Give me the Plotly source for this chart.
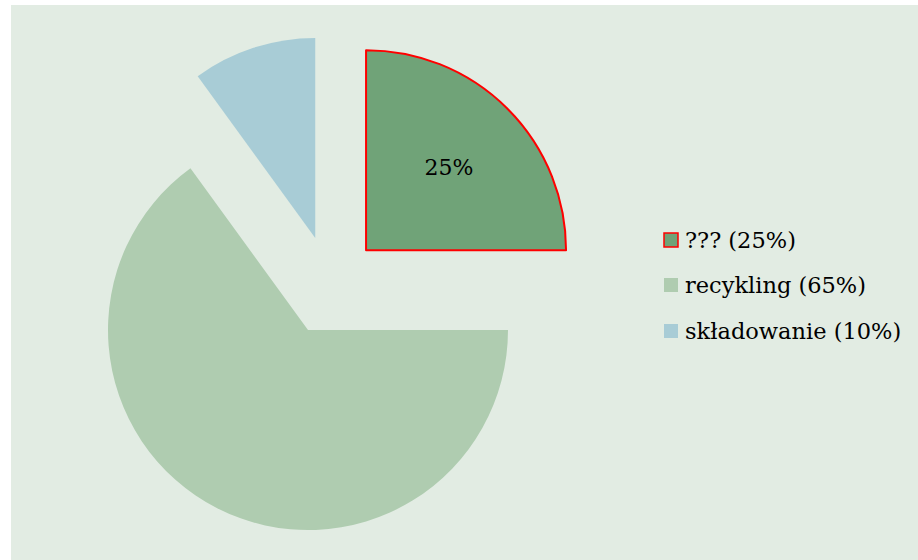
import plotly.graph_objects as go

labels = ["???", "recykling", "składowanie"]
values = [25, 65, 10]
slice_text = ["25%", "", ""]
colors = ["#70A378", "#AFCCB0", "#A8CCD6"]
line_colors = ["#FF0000", "rgba(0,0,0,0)", "rgba(0,0,0,0)"]
line_widths = [2, 0, 0]
pulls = [0.25, 0.25, 0.25]

W, H = 918, 560
BG = "#E2ECE3"
FONT = "Georgia, 'DejaVu Serif', serif"

fig = go.Figure()
fig.add_trace(go.Pie(
    labels=labels,
    values=values,
    text=slice_text,
    textinfo="text",
    textposition="inside",
    insidetextorientation="horizontal",
    textfont=dict(family=FONT, size=22, color="black"),
    sort=False,
    direction="clockwise",
    rotation=0,
    pull=pulls,
    marker=dict(colors=colors, line=dict(color=line_colors, width=line_widths)),
    domain=dict(x=[70.7 / W, 590.7 / W], y=[(H - 535.5) / H, (H - 35.5) / H]),
    hoverinfo="skip",
    showlegend=False,
))

shapes = [dict(type="rect", xref="paper", yref="paper", x0=11 / W, x1=1,
               y0=0, y1=(H - 5) / H, fillcolor=BG, line=dict(width=0), layer="below")]
annotations = []
legend_y = [240, 285, 331]
for i, (lab, val) in enumerate(zip(labels, values)):
    cy = legend_y[i]
    lc = line_colors[i] if line_widths[i] else colors[i]
    shapes.append(dict(type="rect", xref="paper", yref="paper",
                       x0=664 / W, x1=678 / W, y0=(H - cy - 7) / H, y1=(H - cy + 7) / H,
                       fillcolor=colors[i], line=dict(color=lc, width=1.5 if line_widths[i] else 0),
                       layer="above"))
    annotations.append(dict(xref="paper", yref="paper", x=683 / W, y=(H - cy) / H,
                            xanchor="left", yanchor="middle", showarrow=False,
                            text=f"{lab} ({val}%)",
                            font=dict(family=FONT, size=22.5, color="black")))

fig.update_layout(
    width=W, height=H,
    margin=dict(l=0, r=0, t=0, b=0),
    paper_bgcolor="white",
    shapes=shapes,
    annotations=annotations,
    showlegend=False,
)

fig.write_html("out.html")
